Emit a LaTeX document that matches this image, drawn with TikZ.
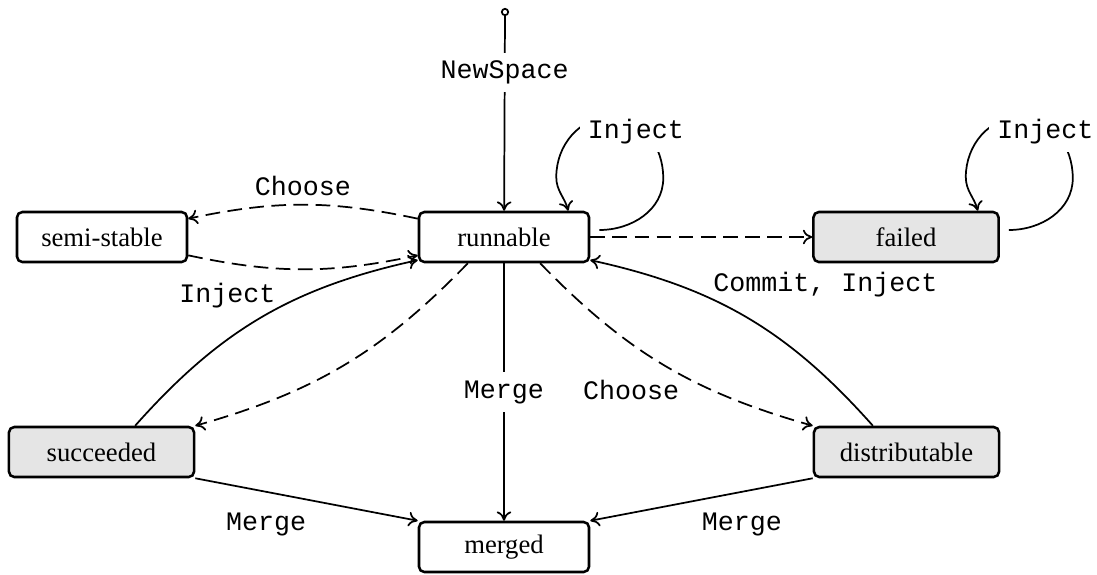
\documentclass[tikz,border=0pt]{standalone}
\usepackage{fontspec}
\setmainfont{Liberation Serif}
\setmonofont{Liberation Mono}
\usetikzlibrary{arrows.meta}

\begin{document}
\begin{tikzpicture}[x=0.375pt,y=0.375pt,
	stbox/.style={draw,rounded corners=2pt,line width=0.95pt,minimum width=63.75pt,minimum height=18.75pt,font=\fontsize{10}{12}\selectfont},
	stdone/.style={stbox,fill=gray!20,minimum width=69.4pt},
	initdot/.style={circle,draw,line width=0.65pt,inner sep=0pt,minimum size=2.4pt},
	lbl/.style={font=\ttfamily\fontsize{10}{12}\selectfont,inner sep=2pt},
	onlbl/.style={lbl,fill=white,inner sep=3pt}]
	\useasboundingbox (0,0) rectangle (1097,-574);

	\node[stbox] (runnable) at (504,-237) {runnable};
	\node[stbox] (semistable) at (102,-237) {semi-stable};
	\node[stdone] (failed) at (906,-237) {failed};
	\node[stdone] (succeeded) at (101.5,-452) {succeeded};
	\node[stdone] (distributable) at (906.5,-452) {distributable};
	\node[stbox] (merged) at (504,-547) {merged};
	\node[initdot] (init) at (505,-12) {};

	\begin{scope}[>={To[length=3.5pt,width=5.5pt]},
	              line width=0.65pt,
	              every edge/.style={draw=black,line width=0.65pt},
	              choice/.style={dash pattern=on 5.5pt off 2.8pt}]
		\path (init) edge[->] node[onlbl,pos=0.29] {NewSpace} (runnable);
		\path (runnable.168) edge[->,choice,bend right=12] node[lbl,above=1pt] {Choose} (semistable.12);
		\path (semistable.-12) edge[->,choice,bend right=12] (runnable.192);
		\path (succeeded.38) edge[->,bend left=18] node[lbl,pos=0.65,left=8pt] {Inject} (runnable.195);
		\path (distributable.142) edge[->,bend right=18] node[lbl,pos=0.75,right=12pt] {Commit, Inject} (runnable.-15);
		\path (runnable.216) edge[->,choice,bend left=15] (succeeded.north east);
		\path (runnable.-36) edge[->,choice,bend right=15] node[lbl,pos=0.68,left=10pt] {Choose} (distributable.north west);
		\path (runnable.east) edge[->,choice] (failed.west);
		\path (runnable) edge[->] node[onlbl,pos=0.5] {Merge} (merged);
		\path (succeeded.south east) edge[->] node[lbl,below left=2pt,pos=0.55] {Merge} (merged.north west);
		\path (distributable.south west) edge[->] node[lbl,below right=2pt,pos=0.55] {Merge} (merged.north east);

		% self loops
		\draw[->] ([shift={(9,7)}]runnable.east) to[out=0,in=-90] ++(64,52)
			to[out=90,in=0] node[onlbl,pos=0.62,shift={(-6,-3)}] {Inject} ++(-52,61)
			to[out=180,in=90] ++(-55,-60)
			to[out=-90,in=105] ([shift={(-22,0)}]runnable.north east);
		\draw[->] ([shift={(9,7)}]failed.east) to[out=0,in=-90] ++(64,52)
			to[out=90,in=0] node[onlbl,pos=0.62,shift={(-6,-3)}] {Inject} ++(-52,61)
			to[out=180,in=90] ++(-55,-60)
			to[out=-90,in=105] ([shift={(-22,0)}]failed.north east);
	\end{scope}
\end{tikzpicture}
\end{document}
